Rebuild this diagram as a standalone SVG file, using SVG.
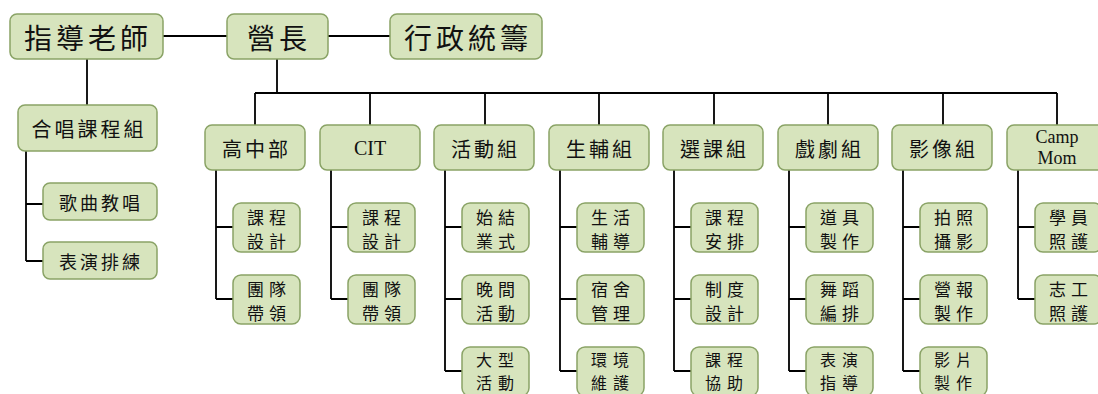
<svg xmlns="http://www.w3.org/2000/svg" width="1098" height="394" viewBox="0 0 1098 394">
<style>
.b{fill:#d7e4bd;stroke:#8aa366;stroke-width:1.5}
.c{fill:none;stroke:#000;stroke-width:1.8}
text{font-family:"Noto Sans CJK TC","Noto Sans CJK SC",sans-serif;fill:#111;text-anchor:middle;dominant-baseline:central}
.t1{font-size:28px;letter-spacing:4px}
.t2{font-size:20px;letter-spacing:3px}
.t3{font-size:18px;letter-spacing:3px}
.t4{font-size:17px;letter-spacing:5px}
.t5{font-size:16px;letter-spacing:6px}
.en{font-family:"Liberation Serif",serif;letter-spacing:0}
</style>
<rect width="1098" height="394" fill="#fff"/>
<g id="connectors" class="c">
<path d="M163 36H227M328 36H390"/>
<path d="M87 59V105"/>
<path d="M26 151V261M26 204H43M26 261H43"/>
<path d="M277 59V93M255 93H1057"/>
<path d="M255 93V125M370 93V125M485 93V125M599 93V125M714 93V125M828 93V125M943 93V125M1057 93V125"/>
<path d="M216 170V299M216 227H233M216 299H233"/>
<path d="M331 170V299M331 227H348M331 299H348"/>
<path d="M445 170V371M445 227H462M445 299H462M445 371H462"/>
<path d="M560 170V371M560 227H577M560 299H577M560 371H577"/>
<path d="M674 170V371M674 227H691M674 299H691M674 371H691"/>
<path d="M789 170V371M789 227H806M789 299H806M789 371H806"/>
<path d="M903 170V371M903 227H920M903 299H920M903 371H920"/>
<path d="M1018 170V299M1018 227H1035M1018 299H1035"/>
</g>
<g id="n-advisor"><rect class="b" x="10" y="14" width="153" height="45" rx="7"/><text class="t1" x="88" y="37">指導老師</text></g>
<g id="n-director"><rect class="b" x="227" y="14" width="101" height="45" rx="7"/><text class="t1" x="279" y="37">營長</text></g>
<g id="n-admin"><rect class="b" x="390" y="14" width="152" height="45" rx="7"/><text class="t1" x="468" y="37">行政統籌</text></g>
<g id="n-choir"><rect class="b" x="18" y="105" width="139" height="46" rx="7"/><text class="t2" x="89" y="128">合唱課程組</text></g>
<g id="n-choir-1"><rect class="b" x="43" y="183" width="114" height="37" rx="7"/><text class="t3" x="101" y="202">歌曲教唱</text></g>
<g id="n-choir-2"><rect class="b" x="43" y="242" width="114" height="37" rx="7"/><text class="t3" x="101" y="261">表演排練</text></g>

<g id="n-hs"><rect class="b" x="205" y="125" width="100" height="45" rx="7"/><text class="t2" x="256.5" y="148">高中部</text></g>
<g id="n-cit"><rect class="b" x="320" y="125" width="100" height="45" rx="7"/><text class="t2 en" x="370" y="148" font-size="22">CIT</text></g>
<g id="n-act"><rect class="b" x="434" y="125" width="100" height="45" rx="7"/><text class="t2" x="485.5" y="148">活動組</text></g>
<g id="n-life"><rect class="b" x="549" y="125" width="100" height="45" rx="7"/><text class="t2" x="600.5" y="148">生輔組</text></g>
<g id="n-course"><rect class="b" x="663" y="125" width="100" height="45" rx="7"/><text class="t2" x="714.5" y="148">選課組</text></g>
<g id="n-drama"><rect class="b" x="778" y="125" width="100" height="45" rx="7"/><text class="t2" x="829.5" y="148">戲劇組</text></g>
<g id="n-video"><rect class="b" x="892" y="125" width="100" height="45" rx="7"/><text class="t2" x="943.5" y="148">影像組</text></g>
<g id="n-mom"><rect class="b" x="1007" y="125" width="100" height="45" rx="7"/><text class="en" x="1057" y="137" font-size="18">Camp</text><text class="en" x="1057" y="158" font-size="18">Mom</text></g>

<g id="n-hs-1"><rect class="b" x="233" y="203" width="67" height="49" rx="8"/><text class="t4" x="269" y="216">課程</text><text class="t4" x="269" y="240">設計</text></g>
<g id="n-hs-2"><rect class="b" x="233" y="275" width="67" height="49" rx="8"/><text class="t4" x="269" y="288">團隊</text><text class="t4" x="269" y="312">帶領</text></g>
<g id="n-cit-1"><rect class="b" x="348" y="203" width="67" height="49" rx="8"/><text class="t4" x="384" y="216">課程</text><text class="t4" x="384" y="240">設計</text></g>
<g id="n-cit-2"><rect class="b" x="348" y="275" width="67" height="49" rx="8"/><text class="t4" x="384" y="288">團隊</text><text class="t4" x="384" y="312">帶領</text></g>
<g id="n-act-1"><rect class="b" x="462" y="203" width="67" height="49" rx="8"/><text class="t4" x="498" y="216">始結</text><text class="t4" x="498" y="240">業式</text></g>
<g id="n-act-2"><rect class="b" x="462" y="275" width="67" height="49" rx="8"/><text class="t4" x="498" y="288">晚間</text><text class="t4" x="498" y="312">活動</text></g>
<g id="n-act-3"><rect class="b" x="462" y="347" width="67" height="49" rx="8"/><text class="t5" x="498" y="359">大型</text><text class="t5" x="498" y="382">活動</text></g>
<g id="n-life-1"><rect class="b" x="577" y="203" width="67" height="49" rx="8"/><text class="t4" x="613" y="216">生活</text><text class="t4" x="613" y="240">輔導</text></g>
<g id="n-life-2"><rect class="b" x="577" y="275" width="67" height="49" rx="8"/><text class="t4" x="613" y="288">宿舍</text><text class="t4" x="613" y="312">管理</text></g>
<g id="n-life-3"><rect class="b" x="577" y="347" width="67" height="49" rx="8"/><text class="t5" x="613" y="359">環境</text><text class="t5" x="613" y="382">維護</text></g>
<g id="n-course-1"><rect class="b" x="691" y="203" width="67" height="49" rx="8"/><text class="t4" x="727" y="216">課程</text><text class="t4" x="727" y="240">安排</text></g>
<g id="n-course-2"><rect class="b" x="691" y="275" width="67" height="49" rx="8"/><text class="t4" x="727" y="288">制度</text><text class="t4" x="727" y="312">設計</text></g>
<g id="n-course-3"><rect class="b" x="691" y="347" width="67" height="49" rx="8"/><text class="t5" x="727" y="359">課程</text><text class="t5" x="727" y="382">協助</text></g>
<g id="n-drama-1"><rect class="b" x="806" y="203" width="67" height="49" rx="8"/><text class="t4" x="842" y="216">道具</text><text class="t4" x="842" y="240">製作</text></g>
<g id="n-drama-2"><rect class="b" x="806" y="275" width="67" height="49" rx="8"/><text class="t4" x="842" y="288">舞蹈</text><text class="t4" x="842" y="312">編排</text></g>
<g id="n-drama-3"><rect class="b" x="806" y="347" width="67" height="49" rx="8"/><text class="t5" x="842" y="359">表演</text><text class="t5" x="842" y="382">指導</text></g>
<g id="n-video-1"><rect class="b" x="920" y="203" width="67" height="49" rx="8"/><text class="t4" x="956" y="216">拍照</text><text class="t4" x="956" y="240">攝影</text></g>
<g id="n-video-2"><rect class="b" x="920" y="275" width="67" height="49" rx="8"/><text class="t4" x="956" y="288">營報</text><text class="t4" x="956" y="312">製作</text></g>
<g id="n-video-3"><rect class="b" x="920" y="347" width="67" height="49" rx="8"/><text class="t5" x="956" y="359">影片</text><text class="t5" x="956" y="382">製作</text></g>
<g id="n-mom-1"><rect class="b" x="1035" y="203" width="67" height="49" rx="8"/><text class="t4" x="1071" y="216">學員</text><text class="t4" x="1071" y="240">照護</text></g>
<g id="n-mom-2"><rect class="b" x="1035" y="275" width="67" height="49" rx="8"/><text class="t4" x="1071" y="288">志工</text><text class="t4" x="1071" y="312">照護</text></g>
</svg>
